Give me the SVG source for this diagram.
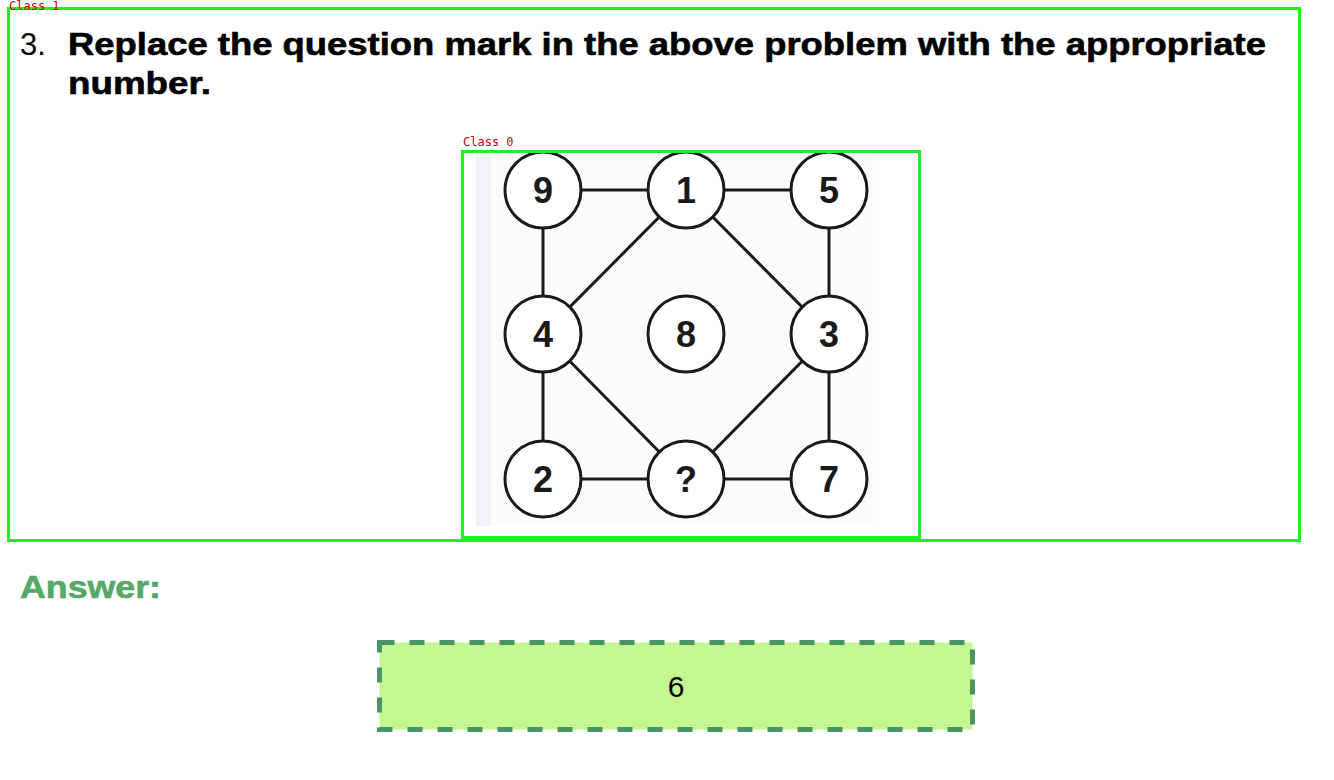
<svg xmlns="http://www.w3.org/2000/svg" width="1334" height="780" viewBox="0 0 1334 780">
<style>
.box{fill:none;stroke:#22ee22;stroke-width:3}
.cls{font-family:"DejaVu Sans Mono","Liberation Mono",monospace;font-size:12px;fill:#cc0000}
.edge{stroke:#1a1a1a;stroke-width:3;fill:none}
.node circle{fill:#ffffff;stroke:#1a1a1a;stroke-width:3}
.node text{font-family:"Liberation Sans",Arial,sans-serif;font-weight:bold;font-size:36px;fill:#1a1a1a;text-anchor:middle}
.title{font-family:"Liberation Sans",Arial,sans-serif;font-size:31px;fill:#000}
</style>
<rect width="1334" height="780" fill="#ffffff"/>
<rect class="box" x="8.5" y="8.5" width="1291" height="532"/>
<text class="cls" x="9" y="10" font-size="9">Class 1</text>
<text class="title" x="20" y="55">3.</text>
<text class="title" x="68" y="55" font-weight="bold" stroke="#000" stroke-width="0.6" textLength="1198" lengthAdjust="spacingAndGlyphs">Replace the question mark in the above problem with the appropriate</text>
<text class="title" x="68" y="94" font-weight="bold" stroke="#000" stroke-width="0.6" textLength="143" lengthAdjust="spacingAndGlyphs">number.</text>
<g id="puzzle">
<rect x="476" y="155" width="397" height="371" fill="#fcfcfc"/>
<rect x="476" y="155" width="15" height="371" fill="#f0f3f8"/>
<g id="connectors">
<line class="edge" x1="543" y1="190" x2="686" y2="190"/>
<line class="edge" x1="686" y1="190" x2="829" y2="190"/>
<line class="edge" x1="543" y1="190" x2="543" y2="334"/>
<line class="edge" x1="829" y1="190" x2="829" y2="334"/>
<line class="edge" x1="686" y1="190" x2="543" y2="334"/>
<line class="edge" x1="686" y1="190" x2="829" y2="334"/>
<line class="edge" x1="543" y1="334" x2="686" y2="479"/>
<line class="edge" x1="829" y1="334" x2="686" y2="479"/>
<line class="edge" x1="543" y1="334" x2="543" y2="479"/>
<line class="edge" x1="829" y1="334" x2="829" y2="479"/>
<line class="edge" x1="543" y1="479" x2="686" y2="479"/>
<line class="edge" x1="686" y1="479" x2="829" y2="479"/>
</g>
<g id="n9" class="node"><circle cx="543" cy="190" r="38"/><text x="543" y="203">9</text></g>
<g id="n1" class="node"><circle cx="686" cy="190" r="38"/><text x="686" y="203">1</text></g>
<g id="n5" class="node"><circle cx="829" cy="190" r="38"/><text x="829" y="203">5</text></g>
<g id="n4" class="node"><circle cx="543" cy="334" r="38"/><text x="543" y="347">4</text></g>
<g id="n8" class="node"><circle cx="686" cy="334" r="38"/><text x="686" y="347">8</text></g>
<g id="n3" class="node"><circle cx="829" cy="334" r="38"/><text x="829" y="347">3</text></g>
<g id="n2" class="node"><circle cx="543" cy="479" r="38"/><text x="543" y="492">2</text></g>
<g id="nq" class="node"><circle cx="686" cy="479" r="38"/><text x="686" y="492">?</text></g>
<g id="n7" class="node"><circle cx="829" cy="479" r="38"/><text x="829" y="492">7</text></g>
</g>
<text class="cls" x="463" y="146">Class 0</text>
<rect class="box" x="462.5" y="151.5" width="457" height="386"/>
<text x="20" y="598" font-family="Liberation Sans,Arial,sans-serif" font-weight="bold" font-size="32" fill="#55a868" stroke="#55a868" stroke-width="0.6" textLength="141" lengthAdjust="spacingAndGlyphs">Answer:</text>
<g id="answer">
<rect x="379.5" y="642.5" width="593" height="87" fill="#c4f78f" stroke="#4a9466" stroke-width="5" stroke-dasharray="15 15"/>
<text x="676" y="697" font-family="Liberation Sans,Arial,sans-serif" font-size="30" fill="#000" text-anchor="middle">6</text>
</g>
</svg>
